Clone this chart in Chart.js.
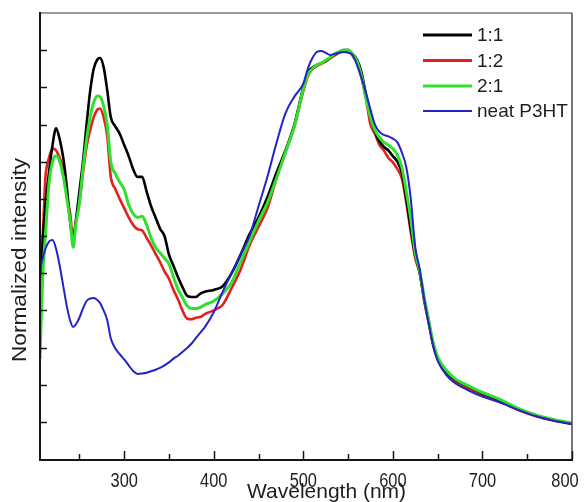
<!DOCTYPE html>
<html>
<head>
<meta charset="utf-8">
<script src="https://cdn.jsdelivr.net/npm/chart.js@4.4.1/dist/chart.umd.min.js"></script>
<style>
html,body{margin:0;padding:0;background:#fff;}
canvas{display:block;}
</style>
</head>
<body>
<canvas id="c" width="588" height="502"></canvas>
<script>
// ---- data (wavelength in nm, normalized intensity) ----
const wavelengths = [
  206, 209, 212, 216, 220, 224, 228, 232, 236, 240,
  243, 246, 250, 254, 258, 262, 266, 270, 273, 277,
  281, 285, 290, 295, 300, 305, 310, 315, 320, 325,
  330, 335, 340, 345, 350, 355, 360, 365, 370, 375,
  380, 385, 390, 400, 410, 420, 430, 440, 450, 460,
  470, 480, 490, 500, 505, 510, 515, 520, 525, 530,
  535, 540, 545, 550, 555, 560, 565, 570, 575, 580,
  585, 590, 595, 600, 605, 610, 615, 620, 625, 630,
  635, 640, 645, 650, 660, 670, 680, 690, 700, 720,
  740, 760, 780, 800
];
const series11 = [
  0.30, 0.48, 0.58, 0.67, 0.745, 0.79, 0.76, 0.71, 0.63, 0.53,
  0.49, 0.54, 0.62, 0.70, 0.80, 0.89, 0.95, 0.975, 0.979, 0.955,
  0.893, 0.82, 0.795, 0.775, 0.745, 0.715, 0.68, 0.659, 0.659, 0.62,
  0.58, 0.55, 0.52, 0.50, 0.45, 0.42, 0.39, 0.363, 0.34, 0.336,
  0.336, 0.345, 0.35, 0.355, 0.365, 0.40, 0.45, 0.505, 0.55, 0.605,
  0.67, 0.73, 0.80, 0.90, 0.94, 0.953, 0.96, 0.965, 0.972, 0.98,
  0.988, 0.995, 1.0, 1.0, 0.99, 0.975, 0.94, 0.88, 0.83, 0.78,
  0.755, 0.74, 0.73, 0.715, 0.70, 0.67, 0.60, 0.52, 0.45, 0.40,
  0.33, 0.27, 0.21, 0.172, 0.135, 0.113, 0.10, 0.088, 0.077, 0.058,
  0.035, 0.017, 0.005, -0.005
];
const series12 = [
  0.43, 0.50, 0.655, 0.71, 0.735, 0.73, 0.71, 0.68, 0.61, 0.555,
  0.49, 0.54, 0.59, 0.67, 0.74, 0.785, 0.82, 0.84, 0.843, 0.82,
  0.77, 0.66, 0.627, 0.60, 0.575, 0.55, 0.53, 0.518, 0.515, 0.495,
  0.475, 0.452, 0.43, 0.405, 0.385, 0.355, 0.33, 0.30, 0.278, 0.276,
  0.28, 0.282, 0.29, 0.30, 0.315, 0.36, 0.41, 0.475, 0.525, 0.575,
  0.655, 0.725, 0.795, 0.89, 0.93, 0.948, 0.958, 0.963, 0.97, 0.978,
  0.986, 0.993, 0.998, 1.0, 0.985, 0.965, 0.925, 0.87, 0.80, 0.775,
  0.745, 0.73, 0.71, 0.698, 0.68, 0.655, 0.59, 0.51, 0.44, 0.40,
  0.325, 0.265, 0.205, 0.168, 0.128, 0.106, 0.093, 0.082, 0.07, 0.053,
  0.032, 0.015, 0.003, -0.006
];
const series21 = [
  0.17, 0.39, 0.50, 0.64, 0.70, 0.716, 0.70, 0.66, 0.60, 0.535,
  0.47, 0.53, 0.59, 0.68, 0.76, 0.82, 0.86, 0.877, 0.875, 0.85,
  0.80, 0.70, 0.668, 0.645, 0.625, 0.585, 0.56, 0.55, 0.553, 0.53,
  0.495, 0.47, 0.455, 0.44, 0.425, 0.39, 0.357, 0.335, 0.313, 0.305,
  0.305, 0.308, 0.315, 0.325, 0.345, 0.375, 0.43, 0.485, 0.54, 0.59,
  0.655, 0.725, 0.795, 0.895, 0.935, 0.95, 0.96, 0.965, 0.973, 0.98,
  0.99, 0.995, 1.0, 1.0, 0.99, 0.97, 0.93, 0.87, 0.82, 0.785,
  0.765, 0.752, 0.745, 0.735, 0.718, 0.685, 0.62, 0.545, 0.455, 0.405,
  0.335, 0.273, 0.213, 0.175, 0.138, 0.115, 0.102, 0.09, 0.079, 0.06,
  0.036, 0.018, 0.006, -0.003
];
const seriesP3HT = [
  0.41, 0.44, 0.465, 0.485, 0.489, 0.465, 0.42, 0.365, 0.31, 0.27,
  0.255, 0.262, 0.28, 0.305, 0.325, 0.332, 0.333, 0.328, 0.32, 0.30,
  0.274, 0.225, 0.198, 0.182, 0.168, 0.152, 0.137, 0.129, 0.13, 0.132,
  0.136, 0.14, 0.145, 0.152, 0.16, 0.17, 0.178, 0.188, 0.198, 0.21,
  0.225, 0.24, 0.255, 0.295, 0.35, 0.40, 0.45, 0.50, 0.58, 0.66,
  0.75, 0.83, 0.875, 0.91, 0.95, 0.978, 0.995, 0.998, 0.993, 0.987,
  0.99, 0.993, 0.995, 0.993, 0.987, 0.96, 0.925, 0.885, 0.84, 0.80,
  0.78, 0.772, 0.768, 0.762, 0.752, 0.725, 0.685, 0.60, 0.47, 0.41,
  0.33, 0.265, 0.205, 0.165, 0.125, 0.103, 0.09, 0.078, 0.068, 0.052,
  0.032, 0.015, 0.003, -0.006
];
const seriesLabels = ['1:1', '1:2', '2:1', 'neat P3HT'];
const xTickLabels = [300, 400, 500, 600, 700, 800];
const xMinorTicks = [250, 350, 450, 550, 650, 750];
const yTickValues = [0, 0.1, 0.2, 0.3, 0.4, 0.5, 0.6, 0.7, 0.8, 0.9, 1.0];
const xTitle = 'Wavelength (nm)';
const yTitle = 'Normalized intensity';

// ---- build chart ----
const toPts = vals => wavelengths.map((w, i) => ({x: w, y: vals[i]}));
const colors = ['#000000', '#e3201c', '#2fe02f', '#2323c8'];
const widths = [2.6, 2.6, 3, 2];
const orders = [2, 3, 1, 0];
const allSeries = [series11, series12, series21, seriesP3HT];

const datasets = allSeries.map((s, i) => ({
  label: seriesLabels[i],
  data: toPts(s),
  borderColor: colors[i],
  backgroundColor: colors[i],
  borderWidth: widths[i],
  pointRadius: 0,
  fill: false,
  cubicInterpolationMode: 'monotone',
  order: orders[i]
}));

const FONT = '"Liberation Sans", Arial, Helvetica, sans-serif';

const chromePlugin = {
  id: 'chrome',
  afterDatasetsDraw(chart) {
    const ctx = chart.ctx;
    const a = chart.chartArea;
    const xs = chart.scales.x, ys = chart.scales.y;
    ctx.save();
    // frame: top and right lighter
    ctx.lineCap = 'butt';
    ctx.strokeStyle = '#7a7a7a';
    ctx.lineWidth = 1.5;
    ctx.beginPath();
    ctx.moveTo(a.left, a.top); ctx.lineTo(a.right, a.top);
    ctx.stroke();
    ctx.strokeStyle = '#4a4a4a';
    ctx.beginPath();
    ctx.moveTo(a.right, a.top); ctx.lineTo(a.right, a.bottom);
    ctx.stroke();
    // left and bottom axes
    ctx.strokeStyle = '#151515';
    ctx.lineWidth = 2;
    ctx.beginPath();
    ctx.moveTo(a.left, a.top - 1); ctx.lineTo(a.left, a.bottom + 1);
    ctx.lineTo(a.right + 1, a.bottom + 1);
    ctx.stroke();
    // y ticks (inward)
    ctx.lineWidth = 1.5;
    yTickValues.forEach(v => {
      const py = Math.round(ys.getPixelForValue(v)) + 0.5;
      ctx.beginPath(); ctx.moveTo(a.left, py); ctx.lineTo(a.left + 7, py); ctx.stroke();
    });
    // x ticks (inward)
    xTickLabels.forEach(v => {
      const px = Math.round(xs.getPixelForValue(v)) + 0.5;
      ctx.beginPath(); ctx.moveTo(px, a.bottom); ctx.lineTo(px, a.bottom - 8); ctx.stroke();
    });
    xMinorTicks.forEach(v => {
      const px = Math.round(xs.getPixelForValue(v)) + 0.5;
      ctx.beginPath(); ctx.moveTo(px, a.bottom); ctx.lineTo(px, a.bottom - 5); ctx.stroke();
    });
    // x tick labels (narrow digits), kept inside the canvas like the reference
    ctx.fillStyle = '#1e1e1e';
    ctx.font = '20px ' + FONT;
    ctx.textAlign = 'center';
    ctx.textBaseline = 'alphabetic';
    xTickLabels.forEach(v => {
      const px = Math.min(xs.getPixelForValue(v), chart.width - 23);
      ctx.save();
      ctx.translate(px, 487);
      ctx.scale(0.82, 1);
      ctx.fillText(String(v), 0, 0);
      ctx.restore();
    });
    // x title
    ctx.font = '21px ' + FONT;
    ctx.textAlign = 'left';
    ctx.fillText(xTitle, 247, 498);
    // y title
    ctx.save();
    ctx.translate(20, 260);
    ctx.rotate(-Math.PI / 2);
    ctx.font = '21px ' + FONT;
    ctx.textAlign = 'center';
    ctx.textBaseline = 'middle';
    ctx.scale(1.08, 1);
    ctx.fillText(yTitle, 0, 0);
    ctx.restore();
    // legend
    const rowsY = [35, 60.5, 86, 111];
    ctx.font = '19px ' + FONT;
    ctx.textAlign = 'left';
    ctx.textBaseline = 'middle';
    chart.data.datasets.forEach((ds, i) => {
      const yy = rowsY[i];
      ctx.strokeStyle = ds.borderColor;
      ctx.lineWidth = i === 3 ? 2 : 3;
      ctx.beginPath(); ctx.moveTo(423, yy); ctx.lineTo(472, yy); ctx.stroke();
      ctx.fillStyle = '#1e1e1e';
      ctx.fillText(ds.label, 477, yy + 1);
    });
    ctx.restore();
  }
};

new Chart(document.getElementById('c'), {
  type: 'line',
  data: { datasets },
  options: {
    responsive: false,
    devicePixelRatio: 1,
    animation: false,
    layout: { padding: { left: 40, top: 13, right: 16, bottom: 43 } },
    plugins: { legend: { display: false }, tooltip: { enabled: false } },
    scales: {
      x: { type: 'linear', min: 206, max: 800, display: false },
      y: { type: 'linear', min: -0.1, max: 1.1, display: false }
    }
  },
  plugins: [chromePlugin]
});
</script>
</body>
</html>
